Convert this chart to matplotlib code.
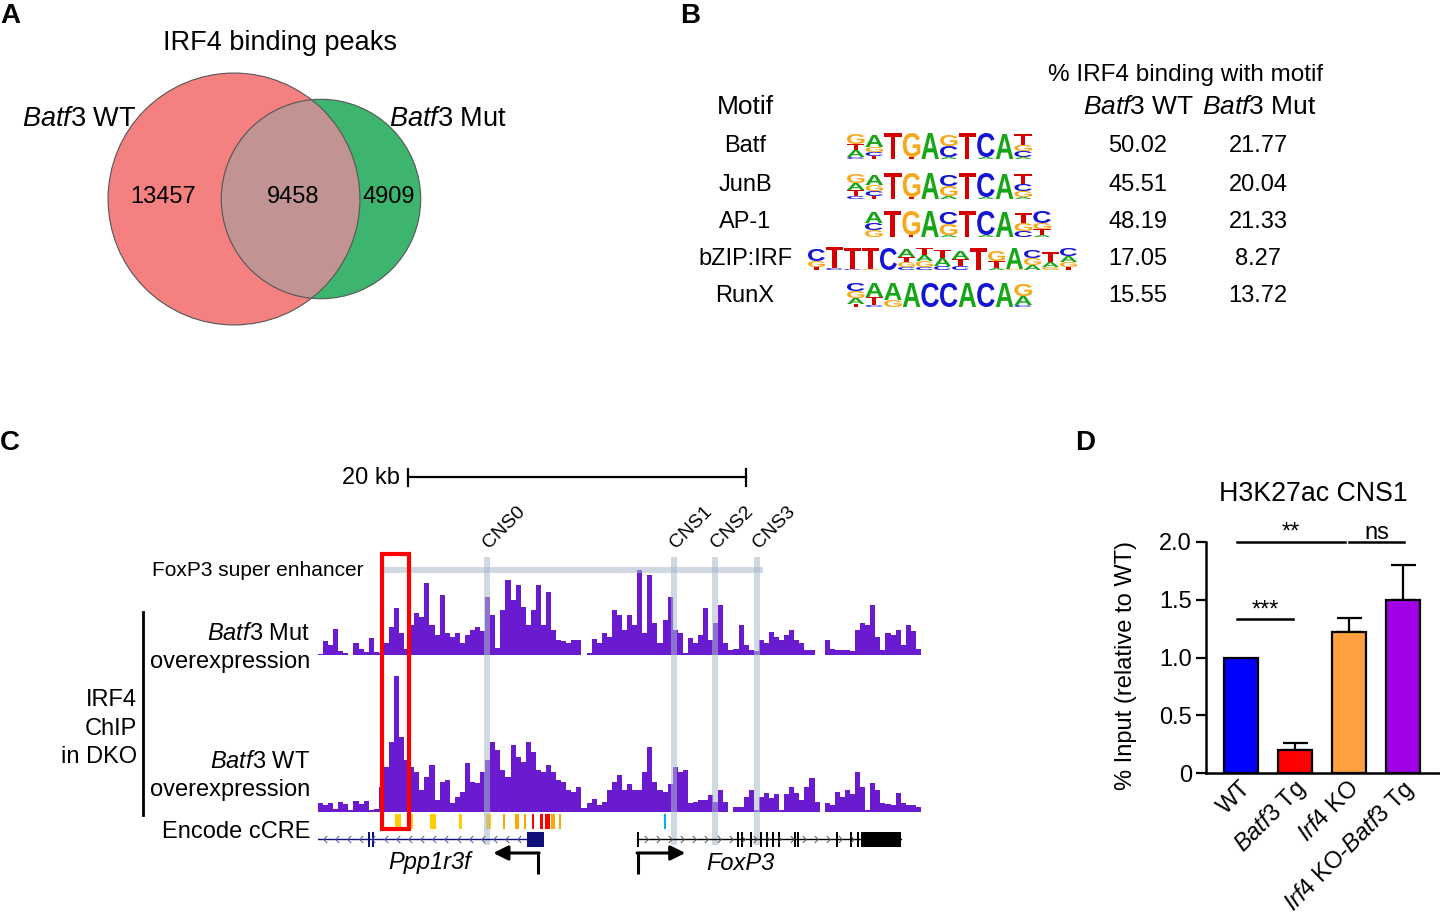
import numpy as np
import matplotlib.pyplot as plt
from matplotlib.patches import Circle, Rectangle, PathPatch
from matplotlib.path import Path
from matplotlib.textpath import TextPath
from matplotlib.font_manager import FontProperties
from matplotlib.transforms import Affine2D

plt.rcParams['font.family'] = 'Liberation Sans'
plt.rcParams['mathtext.fontset'] = 'custom'
plt.rcParams['mathtext.rm'] = 'Liberation Sans'
plt.rcParams['mathtext.it'] = 'Liberation Sans:italic'

# ---------------- data ----------------
# A: Venn of IRF4 peaks
only_wt = 13457
shared = 9458
only_mut = 4909

# B: motifs
motif_names = ['Batf', 'JunB', 'AP-1', 'bZIP:IRF', 'RunX']
pct_wt = ['50.02', '45.51', '48.19', '17.05', '15.55']
pct_mut = ['21.77', '20.04', '21.33', '8.27', '13.72']
# logo columns, letters top -> bottom with stack heights (px)
logo_batf = ['G10 T6 A7 C2', 'A12 G5 C4 T3', 'T26', 'G24 T2', 'A26',
             'G11 C11 A2', 'T26', 'C24 A2', 'A25', 'T11 G6 C6 A2']
logo_junb = ['G9 A7 T6 C3', 'A10 G6 C5 T3', 'T26', 'G24 T2', 'A26',
             'C11 G10 A3', 'T26', 'C24 A2', 'A25', 'T10 C7 G6 A2']
logo_ap1 = ['A11 C7 G7', 'T26', 'G24 T2', 'A26', 'C12 G11 A2',
            'T26', 'C24 A2', 'A25', 'T10 G8 C6', 'C12 G6 T6 A2']
logo_bzip = ['C12 G6 T3', 'T21 C2', 'T21 C1', 'T21 G1', 'C22',
             'A8 T5 G5 C3', 'T7 A6 G6 C3', 'T8 A8 C4', 'A8 T7 C4', 'T22',
             'G10 T7 A2', 'A21 G1', 'C8 G7 A5', 'T10 A5 G3', 'C8 A6 G5 T3']
logo_runx = ['C8 G7 A6 T3', 'A14 T8 C2', 'A17 G7', 'A24', 'C24',
             'C24', 'A24', 'C24', 'A24', 'G12 A9 C2']

# C: IRF4 ChIP signal, 0.3 kb bins
bin_kb = 0.3
mut_signal = [1, 14, 10, 26, 4, 2, 0, 12, 6, 3,
              17, 3, 2, 12, 28, 47, 22, 6, 30, 42,
              38, 72, 30, 20, 60, 22, 18, 22, 12, 20,
              25, 28, 24, 58, 40, 7, 45, 75, 55, 70,
              48, 30, 45, 70, 30, 63, 25, 15, 14, 12,
              15, 15, 0, 2, 16, 12, 22, 18, 45, 40,
              25, 40, 30, 85, 22, 80, 32, 12, 35, 58,
              25, 22, 2, 17, 12, 20, 47, 15, 32, 50,
              12, 5, 6, 30, 10, 5, 4, 15, 12, 23,
              18, 15, 20, 25, 15, 12, 5, 5, 0, 0,
              15, 6, 5, 5, 5, 4, 25, 32, 30, 50,
              18, 5, 22, 20, 25, 10, 30, 24, 6, 0]
wt_signal = [9, 7, 9, 3, 10, 8, 2, 11, 8, 11,
             2, 3, 25, 45, 70, 136, 75, 52, 45, 40,
             22, 35, 47, 12, 30, 32, 9, 15, 20, 49,
             30, 29, 40, 52, 70, 62, 42, 35, 67, 55,
             50, 70, 60, 42, 40, 47, 40, 32, 30, 22,
             20, 25, 4, 9, 13, 7, 10, 22, 30, 37,
             22, 28, 22, 22, 40, 65, 30, 22, 20, 28,
             45, 40, 42, 9, 10, 12, 12, 17, 10, 22,
             10, 0, 5, 5, 15, 22, 2, 15, 19, 14,
             18, 2, 18, 25, 19, 12, 25, 34, 10, 0,
             9, 7, 20, 15, 22, 18, 40, 25, 2, 29,
             22, 9, 8, 7, 19, 9, 7, 7, 5, 0]
cns_names = ['CNS0', 'CNS1', 'CNS2', 'CNS3']
cns_kb = [10.0, 21.08, 23.5, 26.0]
super_enh = (3.85, 26.35)
red_box = (3.79, 5.39)
ccre_start = [4.56, 5.5, 6.63, 8.35, 9.95, 10.95, 11.66, 12.2, 12.67, 13.14, 13.44, 13.8, 14.27, 20.5]
ccre_width = [0.36, 0.12, 0.36, 0.18, 0.3, 0.12, 0.24, 0.12, 0.12, 0.18, 0.3, 0.24, 0.12, 0.12]
ccre_class = ['pELS', 'pELS', 'pELS', 'pELS', 'pELS', 'dELS', 'dELS', 'dELS', 'PLS', 'PLS', 'PLS',
              'dELS', 'dELS', 'CTCF']
ppp_span = (0.0, 12.4)
ppp_exons = [2.96, 3.2]
ppp_box = (12.37, 13.38)
ppp_tss = 13.03
fox_span = (18.89, 34.52)
fox_exons = [18.89, 24.8, 25.04, 25.58, 26.17, 26.52, 26.88, 27.23, 28.18, 28.36, 30.67, 31.5, 31.91]
fox_box = (32.15, 34.52)
fox_tss = 18.95

# D: H3K27ac CNS1
groups = ['WT', r'$\it{Batf3}$ Tg', r'$\it{Irf4}$ KO', r'$\it{Irf4}$ KO-$\it{Batf3}$ Tg']
means = [1.0, 0.20, 1.22, 1.50]
sems = [0.0, 0.06, 0.12, 0.30]
bar_colors = ['#0000FF', '#FF0000', '#FFA040', '#A100E6']
sig = [(-0.07, 0.96, 1.33, '***'), (-0.07, 1.93, 2.0, '**'), (2.0, 3.02, 2.0, 'ns')]

# ---------------- figure ----------------
fig = plt.figure(figsize=(14.4, 9.14), dpi=100)
W, H = 1440, 914

# ---- panel D ----
axd = fig.add_axes([1206 / W, (H - 773) / H, 234 / W, 231 / H])
xpos = np.arange(len(groups))
axd.bar(xpos, means, width=0.63, color=bar_colors, edgecolor='k', linewidth=1.6, zorder=3)
axd.errorbar(xpos[1:], means[1:], yerr=[np.zeros(3), sems[1:]], fmt='none', ecolor='k',
             elinewidth=1.6, capsize=9, capthick=1.6, zorder=2)
axd.set_xlim(-0.648, 3.685)
axd.set_ylim(0, 2.0)
axd.set_yticks([0, 0.5, 1.0, 1.5, 2.0], ['0', '0.5', '1.0', '1.5', '2.0'], fontsize=17)
axd.set_xticks(xpos, [''] * len(groups))
for x, g in zip(xpos, groups):
    axd.annotate(g, xy=(x, 0), xycoords=('data', 'axes fraction'), xytext=(7, -12),
                 textcoords='offset pixels', rotation=45, ha='right', va='center',
                 rotation_mode='anchor', fontsize=17, annotation_clip=False)
axd.tick_params(axis='y', length=7, width=1.6, pad=3)
axd.tick_params(axis='x', length=0)
for s in ['top', 'right']:
    axd.spines[s].set_visible(False)
for s in ['left', 'bottom']:
    axd.spines[s].set_linewidth(1.8)
for x1, x2, y, lab in sig:
    axd.plot([x1, x2], [y, y], color='k', lw=1.8, clip_on=False)
    axd.text((x1 + x2) / 2, y - 0.015, lab, ha='center', va='bottom', fontsize=17)

# ---- panel C tracks (x in kb, y in pixels) ----
axg = fig.add_axes([318 / W, 0, 608 / W, 1])
axg.set_xlim(0, 36)
axg.set_ylim(H, 0)
axg.axis('off')
purple = '#6A1BD0'
edges = np.arange(len(mut_signal) + 1) * bin_kb
for sigvals, base in [(mut_signal, 655), (wt_signal, 812)]:
    v = np.append(sigvals, sigvals[-1])
    axg.fill_between(edges, base, base - v, step='post', color=purple, lw=0)

ccre_colors = {'pELS': '#FFCD00', 'dELS': '#FFA700', 'PLS': '#FF0000', 'CTCF': '#00B0F0'}
for s, w, c in zip(ccre_start, ccre_width, ccre_class):
    axg.add_patch(Rectangle((s, 814), w, 15, color=ccre_colors[c], lw=0))

chev_l = Path([(0.5, 1), (-0.5, 0), (0.5, -1)], [Path.MOVETO, Path.LINETO, Path.LINETO])
chev_r = Path([(-0.5, 1), (0.5, 0), (-0.5, -1)], [Path.MOVETO, Path.LINETO, Path.LINETO])
navy = '#10107A'
axg.plot(ppp_span, [839, 839], color=navy, lw=1)
px = np.arange(0.4, 12.2, 0.72)
axg.plot(px, np.full(len(px), 839), ls='none', marker=chev_l, ms=5, mfc='none', mec='#5050A0', mew=0.7)
for e in ppp_exons:
    axg.add_patch(Rectangle((e, 832), 0.1, 15, color=navy, lw=0))
axg.add_patch(Rectangle((ppp_box[0], 832), ppp_box[1] - ppp_box[0], 15, color=navy, lw=0))
axg.plot(fox_span, [839, 839], color='k', lw=1)
fx = np.arange(19.4, 32.0, 0.72)
axg.plot(fx, np.full(len(fx), 839), ls='none', marker=chev_r, ms=5, mfc='none', mec='#555555', mew=0.7)
for e in fox_exons:
    axg.add_patch(Rectangle((e, 832), 0.12, 15, color='k', lw=0))
axg.add_patch(Rectangle((fox_box[0], 832), fox_box[1] - fox_box[0], 15, color='k', lw=0))

# TSS arrows
axg.plot([ppp_tss, ppp_tss], [874, 853], color='k', lw=2.2, solid_capstyle='butt')
axg.annotate('', xy=(ppp_tss - 2.65, 853), xytext=(ppp_tss + 0.06, 853),
             arrowprops=dict(arrowstyle='-|>', lw=2.2, color='k', mutation_scale=22, shrinkA=0, shrinkB=0))
axg.plot([fox_tss, fox_tss], [874, 853], color='k', lw=2.2, solid_capstyle='butt')
axg.annotate('', xy=(fox_tss + 2.8, 853), xytext=(fox_tss - 0.06, 853),
             arrowprops=dict(arrowstyle='-|>', lw=2.2, color='k', mutation_scale=22, shrinkA=0, shrinkB=0))
axg.text(6.6, 863, 'Ppp1r3f', style='italic', fontsize=17, ha='center', va='center')
axg.text(25.0, 863, 'FoxP3', style='italic', fontsize=17, ha='center', va='center')

# super enhancer + CNS bands + red box
band_c = '#A9B8CC'
axg.add_patch(Rectangle((super_enh[0], 567), super_enh[1] - super_enh[0], 6, color=band_c, alpha=0.55, lw=0))
for name, k in zip(cns_names, cns_kb):
    axg.add_patch(Rectangle((k - 0.2, 557), 0.4, 288, color=band_c, alpha=0.55, lw=0))
    axg.text(k + 0.12, 549, name, rotation=45, rotation_mode='anchor', ha='left', va='baseline',
             fontsize=14)
axg.add_patch(Rectangle((red_box[0], 554), red_box[1] - red_box[0], 275, fill=False,
                        edgecolor='#FF0000', lw=3))
# scale bar
axg.plot([5.33, 25.33], [477, 477], color='k', lw=1.6)
axg.plot([5.33, 5.33], [469, 486], color='k', lw=1.6)
axg.plot([25.33, 25.33], [469, 486], color='k', lw=1.6)

# ---------------- overlay (pixel coords) ----------------
ax = fig.add_axes([0, 0, 1, 1])
ax.set_xlim(0, W)
ax.set_ylim(H, 0)
ax.axis('off')

for lab, x, y in [('A', 0, 16), ('B', 680, 16), ('C', 0, 443), ('D', 1075, 443)]:
    ax.text(x, y, lab, fontsize=20, fontweight='bold', ha='left', va='center')

# ---- panel A: Venn ----
px_per_sqrt = 0.832
r_wt = px_per_sqrt * np.sqrt(only_wt + shared)
r_mut = px_per_sqrt * np.sqrt(only_mut + shared)
c_wt = (234, 199)
c_mut = (321, 199)
ax.add_patch(Circle(c_wt, r_wt, facecolor='#F48080', edgecolor='none'))
ax.add_patch(Circle(c_mut, r_mut, facecolor='#3DB56E', edgecolor='none'))
lens = Circle(c_wt, r_wt, facecolor='#C19393', edgecolor='none')
ax.add_patch(lens)
clip = Circle(c_mut, r_mut, transform=ax.transData)
lens.set_clip_path(clip)
ax.add_patch(Circle(c_wt, r_wt, fill=False, edgecolor='#555555', lw=0.8))
ax.add_patch(Circle(c_mut, r_mut, fill=False, edgecolor='#555555', lw=0.8))
ax.text(280, 43, 'IRF4 binding peaks', fontsize=19.5, ha='center', va='center')
ax.text(22, 119, r'$\it{Batf3}$ WT', fontsize=19.5, ha='left', va='center')
ax.text(389, 119, r'$\it{Batf3}$ Mut', fontsize=19.5, ha='left', va='center')
ax.text(163, 197, f'{only_wt}', fontsize=17, ha='center', va='center')
ax.text(293, 197, f'{shared}', fontsize=17, ha='center', va='center')
ax.text(389, 197, f'{only_mut}', fontsize=17, ha='center', va='center')

# ---- panel B: motif table ----
ax.text(1186, 75, '% IRF4 binding with motif', fontsize=17.5, ha='center', va='center')
ax.text(745, 107, 'Motif', fontsize=19, ha='center', va='center')
ax.text(1139, 107, r'$\it{Batf3}$ WT', fontsize=19, ha='center', va='center')
ax.text(1259, 107, r'$\it{Batf3}$ Mut', fontsize=19, ha='center', va='center')
row_y = [146, 185, 222, 259, 296]
for name, a, b, y in zip(motif_names, pct_wt, pct_mut, row_y):
    ax.text(745, y, name, fontsize=17, ha='center', va='center')
    ax.text(1138, y, a, fontsize=17, ha='center', va='center')
    ax.text(1258, y, b, fontsize=17, ha='center', va='center')

logo_colors = {'A': '#16A516', 'C': '#1414D2', 'G': '#F7A81B', 'T': '#D40000'}
fp_logo = FontProperties(family='Liberation Sans', weight='bold')
letter_paths = {ch: TextPath((0, 0), ch, size=100, prop=fp_logo) for ch in 'ACGT'}


def draw_logo(cols, x0, ybase, colw):
    for i, col in enumerate(cols):
        yb = ybase
        for tok in reversed(col.split()):
            ch, h = tok[0], float(tok[1:])
            p = letter_paths[ch]
            ext = p.get_extents()
            tr = (Affine2D().translate(-ext.x0, -ext.y0)
                  .scale(colw * 0.94 / ext.width, -h / ext.height)
                  .translate(x0 + i * colw, yb))
            ax.add_patch(PathPatch(tr.transform_path(p), facecolor=logo_colors[ch], edgecolor='none'))
            yb -= h


for cols, x0, yb, cw in [(logo_batf, 847, 159, 18.6), (logo_junb, 847, 199, 18.6),
                         (logo_ap1, 865, 237, 18.7), (logo_bzip, 808, 270, 18.0),
                         (logo_runx, 847, 307, 18.6)]:
    draw_logo(cols, x0, yb, cw)

# ---- panel C labels ----
ax.text(400, 478, '20 kb', fontsize=17, ha='right', va='center')
ax.text(364, 571, 'FoxP3 super enhancer', fontsize=15, ha='right', va='center')
ax.text(310, 634, r'$\it{Batf3}$ Mut', fontsize=17, ha='right', va='center')
ax.text(310, 662, 'overexpression', fontsize=17, ha='right', va='center')
ax.text(310, 762, r'$\it{Batf3}$ WT', fontsize=17, ha='right', va='center')
ax.text(310, 790, 'overexpression', fontsize=17, ha='right', va='center')
ax.text(310, 832, 'Encode cCRE', fontsize=17, ha='right', va='center')
ax.plot([143, 143], [612, 815], color='k', lw=2)
ax.text(137, 700, 'IRF4', fontsize=17, ha='right', va='center')
ax.text(137, 729, 'ChIP', fontsize=17, ha='right', va='center')
ax.text(137, 757, 'in DKO', fontsize=17, ha='right', va='center')

# ---- panel D labels ----
ax.text(1313, 494, 'H3K27ac CNS1', fontsize=19.3, ha='center', va='center')
ax.text(1126, 665, '% Input (relative to WT)', fontsize=17, rotation=90, ha='center', va='center')

fig.savefig('out.png', dpi=100)
